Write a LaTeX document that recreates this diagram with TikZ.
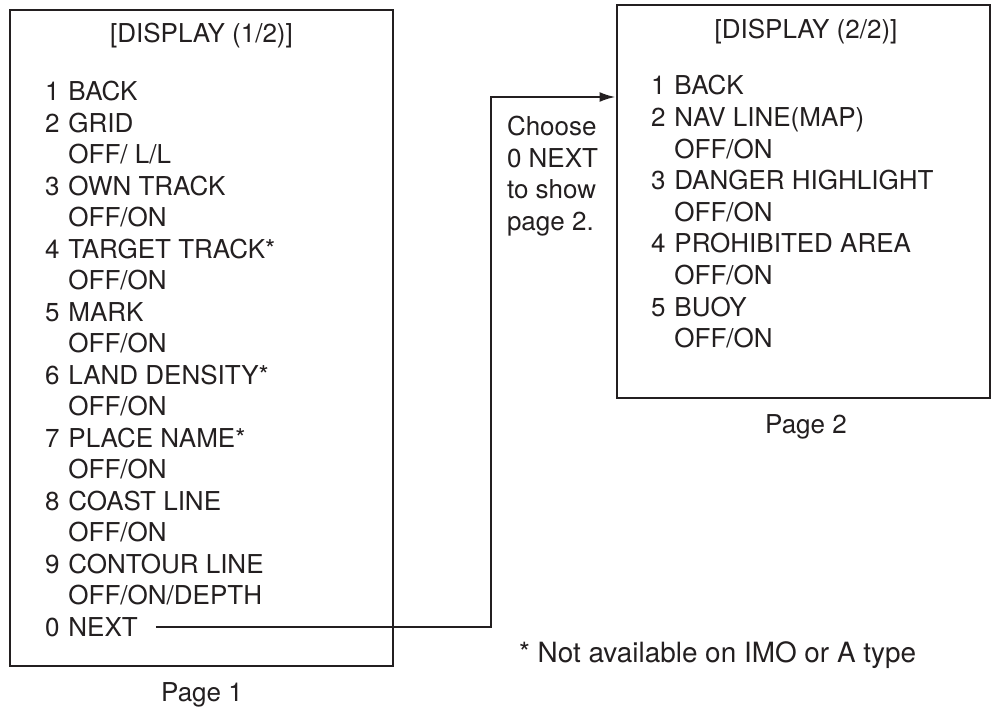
\documentclass[tikz,border=0pt]{standalone}
\usepackage{fontspec}
\setmainfont{TeX Gyre Heros}
\usetikzlibrary{arrows.meta}
\definecolor{ink}{HTML}{231F20}
\begin{document}
\begin{tikzpicture}[x=1pt,y=-1pt,
  every node/.style={inner sep=0pt,outer sep=0pt,text=ink,font=\fontsize{26}{31.5}\selectfont},
  menubox/.style={draw=ink,line width=2.8pt,minimum width=#1},
  menulist/.style={anchor=base west},
  conn/.style={draw=ink,line width=2.2pt},
  tip/.style={-{Latex[length=16pt,width=10pt]}}]
\useasboundingbox (0,0) rectangle (992,710);

% boxes
\node[menubox=383pt,minimum height=656pt] (left) at (201.5,338) {};
\node[menubox=373pt,minimum height=393pt] (right) at (803.5,201.5) {};

% titles
\node[anchor=base] (t1) at (201.5,42) {[DISPLAY (1/2)]};
\node[anchor=base] (t2) at (806,38) {[DISPLAY (2/2)]};

% page 1 list
\node[menulist] (list1) at (45,100.8) {%
  \fontsize{26}{31.5}\selectfont
  \begin{tabular}[t]{@{}l@{\hspace{9pt}}l@{}}
  1 & BACK\\
  2 & GRID\\
    & OFF/ L/L\\
  3 & OWN TRACK\\
    & OFF/ON\\
  4 & TARGET TRACK*\\
    & OFF/ON\\
  5 & MARK\\
    & OFF/ON\\
  6 & LAND DENSITY*\\
    & OFF/ON\\
  7 & PLACE NAME*\\
    & OFF/ON\\
  8 & COAST LINE\\
    & OFF/ON\\
  9 & CONTOUR LINE\\
    & OFF/ON/DEPTH
  \end{tabular}};
\node[menulist] (next) at (45,636.3) {0\hspace{9pt}NEXT};

% page 2 list
\node[menulist] (list2) at (651,94.8) {%
  \fontsize{26}{31.6}\selectfont
  \begin{tabular}[t]{@{}l@{\hspace{9pt}}l@{}}
  1 & BACK\\
  2 & NAV LINE(MAP)\\
    & OFF/ON\\
  3 & DANGER HIGHLIGHT\\
    & OFF/ON\\
  4 & PROHIBITED AREA\\
    & OFF/ON\\
  5 & BUOY\\
    & OFF/ON
  \end{tabular}};

% instruction text (base anchor = last line baseline)
\node[anchor=base west,align=left] (choose) at (507,230) {%
  \fontsize{26}{31}\selectfont Choose\\0 NEXT\\to show\\page 2.};

% captions
\node[anchor=base] (p1) at (202,701) {Page 1};
\node[anchor=base] (p2) at (806,433) {Page 2};
\node[anchor=base west,font=\fontsize{27.9}{33}\selectfont] (note) at (519,662) {* Not available on IMO or A type};

% connector
\coordinate (turn) at (491,97);
\draw[conn,tip,shorten >=1.5pt] ([xshift=18pt]next.east) -| (turn) -- (turn -| right.west);
\end{tikzpicture}
\end{document}
